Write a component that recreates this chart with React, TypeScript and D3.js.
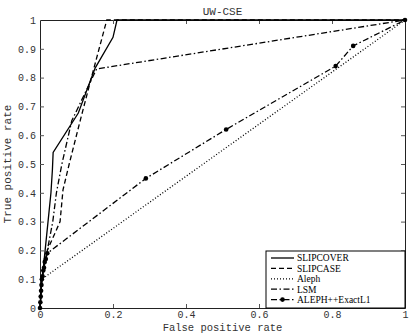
import { useEffect, useRef } from "react"
import * as d3 from "d3"

const TITLE = "UW-CSE"
const X_LABEL = "False positive rate"
const Y_LABEL = "True positive rate"
const X_TICKS = [0, 0.2, 0.4, 0.6, 0.8, 1]
const Y_TICKS = [0, 0.1, 0.2, 0.3, 0.4, 0.5, 0.6, 0.7, 0.8, 0.9, 1]

// curves (fpr, tpr)
const SLIPCOVER_FPR = [0, 0.003, 0.005, 0.01, 0.014, 0.022, 0.03, 0.034, 0.036, 0.105, 0.151, 0.2, 0.211, 1]
const SLIPCOVER_TPR = [0, 0.05, 0.1, 0.15, 0.2, 0.3, 0.4, 0.48, 0.54, 0.677, 0.833, 0.94, 1, 1]

const SLIPCASE_FPR = [0, 0.005, 0.02, 0.055, 0.063, 0.08, 0.11, 0.145, 0.183, 1]
const SLIPCASE_TPR = [0, 0.1, 0.2, 0.3, 0.41, 0.5, 0.65, 0.82, 1, 1]

const ALEPH_FPR = [0, 0.005, 1]
const ALEPH_TPR = [0, 0.1, 1]

const LSM_FPR = [0, 0.005, 0.02, 0.035, 0.045, 0.06, 0.087, 0.155, 1]
const LSM_TPR = [0, 0.1, 0.2, 0.3, 0.4, 0.5, 0.65, 0.83, 1]

const ALEPHPP_FPR = [0, 0.001, 0.002, 0.003, 0.004, 0.005, 0.007, 0.009, 0.011, 0.013, 0.016, 0.02, 0.29, 0.51, 0.81, 0.858, 1]
const ALEPHPP_TPR = [0, 0.02, 0.04, 0.06, 0.08, 0.1, 0.11, 0.13, 0.14, 0.16, 0.17, 0.19, 0.45, 0.62, 0.84, 0.91, 1]

const SERIES = [
    { name: "SLIPCOVER", fpr: SLIPCOVER_FPR, tpr: SLIPCOVER_TPR, dash: null, dots: false },
    { name: "SLIPCASE", fpr: SLIPCASE_FPR, tpr: SLIPCASE_TPR, dash: "5,3", dots: false },
    { name: "Aleph", fpr: ALEPH_FPR, tpr: ALEPH_TPR, dash: "1,2", dots: false },
    { name: "LSM", fpr: LSM_FPR, tpr: LSM_TPR, dash: "6,2.5,1.5,2.5", dots: false },
    { name: "ALEPH++ExactL1", fpr: ALEPHPP_FPR, tpr: ALEPHPP_TPR, dash: "6,2.5,1.5,2.5", dots: true },
]

const MONO = "'Liberation Mono', 'DejaVu Sans Mono', monospace"
const SERIF = "'Liberation Serif', serif"

export default function App() {
    const svgRef = useRef<SVGSVGElement>(null)

    useEffect(() => {
        document.body.style.margin = "0"
        const width = 414
        const height = 334
        const m = { left: 40, right: 9, top: 20, bottom: 26 }
        const svg = d3.select(svgRef.current)
        svg.selectAll("*").remove()
        svg.append("rect").attr("width", width).attr("height", height).attr("fill", "white")

        const x = d3.scaleLinear().domain([0, 1]).range([m.left, width - m.right])
        const y = d3.scaleLinear().domain([0, 1]).range([height - m.bottom, m.top])
        const fmt = (d: any) => String(+(+d).toFixed(1))

        // axes with inward ticks on all four sides
        const bottom = svg.append("g")
            .attr("transform", `translate(0,${y(0)})`)
            .call(d3.axisBottom(x).tickValues(X_TICKS).tickFormat(fmt).tickSizeInner(-4).tickSizeOuter(0).tickPadding(3))
        const left = svg.append("g")
            .attr("transform", `translate(${x(0)},0)`)
            .call(d3.axisLeft(y).tickValues(Y_TICKS).tickFormat(fmt).tickSizeInner(-4).tickSizeOuter(0).tickPadding(4))
        svg.append("g")
            .attr("transform", `translate(0,${y(1)})`)
            .call(d3.axisTop(x).tickValues(X_TICKS).tickFormat(() => "").tickSizeInner(-4).tickSizeOuter(0))
        svg.append("g")
            .attr("transform", `translate(${x(1)},0)`)
            .call(d3.axisRight(y).tickValues(Y_TICKS).tickFormat(() => "").tickSizeInner(-4).tickSizeOuter(0))

        svg.selectAll(".domain").attr("stroke", "#222")
        svg.selectAll(".tick line").attr("stroke", "#555")
        for (const g of [bottom, left]) {
            g.selectAll(".tick text")
                .attr("font-family", MONO)
                .attr("font-size", 10)
                .attr("fill", "#333")
        }
        // hide ticks at the corners
        svg.selectAll(".tick").filter((d: any) => d === 0 || d === 1).select("line").remove()

        // curves
        const line = d3.line<[number, number]>().x(d => x(d[0])).y(d => y(d[1]))
        const plot = svg.append("g")
        SERIES.forEach(s => {
            const pts: [number, number][] = s.fpr.map((f, i) => [f, s.tpr[i]])
            plot.append("path")
                .datum(pts)
                .attr("d", line)
                .attr("fill", "none")
                .attr("stroke", "black")
                .attr("stroke-width", 1.3)
                .attr("stroke-dasharray", s.dash)
            if (s.dots) {
                plot.selectAll(null)
                    .data(pts)
                    .join("circle")
                    .attr("cx", d => x(d[0]))
                    .attr("cy", d => y(d[1]))
                    .attr("r", 2.3)
                    .attr("fill", "black")
            }
        })

        // title & labels
        svg.append("text")
            .attr("x", (x(0) + x(1)) / 2).attr("y", 15)
            .attr("text-anchor", "middle")
            .attr("font-family", MONO).attr("font-size", 11).attr("fill", "#333")
            .text(TITLE)
        svg.append("text")
            .attr("x", (x(0) + x(1)) / 2).attr("y", 331)
            .attr("text-anchor", "middle")
            .attr("font-family", MONO).attr("font-size", 10.5).attr("fill", "#333")
            .text(X_LABEL)
        svg.append("text")
            .attr("transform", `translate(11,${(y(0) + y(1)) / 2}) rotate(-90)`)
            .attr("text-anchor", "middle")
            .attr("font-family", MONO).attr("font-size", 11).attr("fill", "#333")
            .text(Y_LABEL)

        // legend
        const lg = svg.append("g")
        const lx = 266, ly = 251
        lg.append("rect")
            .attr("x", lx).attr("y", ly)
            .attr("width", x(1) - lx).attr("height", y(0) - ly)
            .attr("fill", "white").attr("stroke", "black").attr("stroke-width", 1)
        SERIES.forEach((s, i) => {
            const cy = 258 + i * 10.4
            lg.append("line")
                .attr("x1", 271).attr("x2", 294)
                .attr("y1", cy).attr("y2", cy)
                .attr("stroke", "black").attr("stroke-width", 1.3)
                .attr("stroke-dasharray", s.dash)
            if (s.dots) {
                lg.append("circle").attr("cx", 282.5).attr("cy", cy).attr("r", 2.3).attr("fill", "black")
            }
            lg.append("text")
                .attr("x", 297).attr("y", cy + 3.4)
                .attr("font-family", SERIF).attr("font-size", 9.5)
                .attr("fill", "black")
                .text(s.name)
        })
    }, [])

    return (
        <div>
            <svg ref={svgRef} width={414} height={334} style={{ display: "block" }} />
        </div>
    )
}
